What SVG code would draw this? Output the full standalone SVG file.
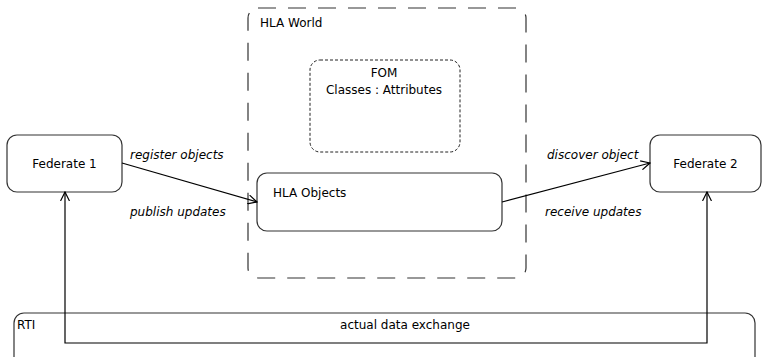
<svg xmlns="http://www.w3.org/2000/svg" width="763" height="357" viewBox="0 0 763 357">
<defs>
<style>
text{font-family:"DejaVu Sans",sans-serif;font-size:12px;fill:#000}
.it{font-style:italic}
.box{fill:#fff;stroke:#333;stroke-width:1.2}
.world{fill:none;stroke:#333;stroke-width:1.2;stroke-dasharray:18 12}
.fom{fill:none;stroke:#222;stroke-width:1;stroke-dasharray:3 2}
.conn{fill:none;stroke:#000;stroke-width:1.2}
</style>
<marker id="arr" viewBox="0 0 10 10" refX="9" refY="5" markerWidth="10" markerHeight="10" markerUnits="userSpaceOnUse" orient="auto-start-reverse">
<path d="M0,0.5 L9,5 L0,9.5" fill="none" stroke="#000" stroke-width="1.2"/>
</marker>
</defs>
<g id="rti">
<rect class="box" x="14" y="313" width="741" height="70" rx="10"/>
<text x="17" y="329">RTI</text>
<text x="405" y="329" text-anchor="middle">actual data exchange</text>
</g>
<g id="hla-world">
<rect class="world" x="248" y="8" width="278" height="270" rx="10"/>
<text x="260" y="27">HLA World</text>
</g>
<g id="fom">
<rect class="fom" x="310" y="60" width="150" height="92" rx="10"/>
<text x="384" y="77" text-anchor="middle">FOM</text>
<text x="384" y="94" text-anchor="middle">Classes : Attributes</text>
</g>
<g id="hla-objects">
<rect class="box" x="257" y="173" width="245" height="58" rx="10"/>
<text x="273" y="197">HLA Objects</text>
</g>
<g id="federate1">
<rect class="box" x="7" y="135" width="115" height="57" rx="10"/>
<text x="64.5" y="168" text-anchor="middle">Federate 1</text>
</g>
<g id="federate2">
<rect class="box" x="650" y="135" width="111" height="57" rx="10"/>
<text x="705.5" y="168" text-anchor="middle">Federate 2</text>
</g>
<g id="connectors">
<line class="conn" x1="122" y1="163" x2="257" y2="202" marker-end="url(#arr)"/>
<line class="conn" x1="502" y1="202" x2="650" y2="163" marker-end="url(#arr)"/>
<polyline class="conn" points="65,192 65,343 707,343 707,192" marker-start="url(#arr)" marker-end="url(#arr)"/>
<text class="it" x="130" y="159">register objects</text>
<text class="it" x="130" y="216">publish updates</text>
<text class="it" x="547" y="159">discover object</text>
<text class="it" x="545" y="216">receive updates</text>
</g>
</svg>
